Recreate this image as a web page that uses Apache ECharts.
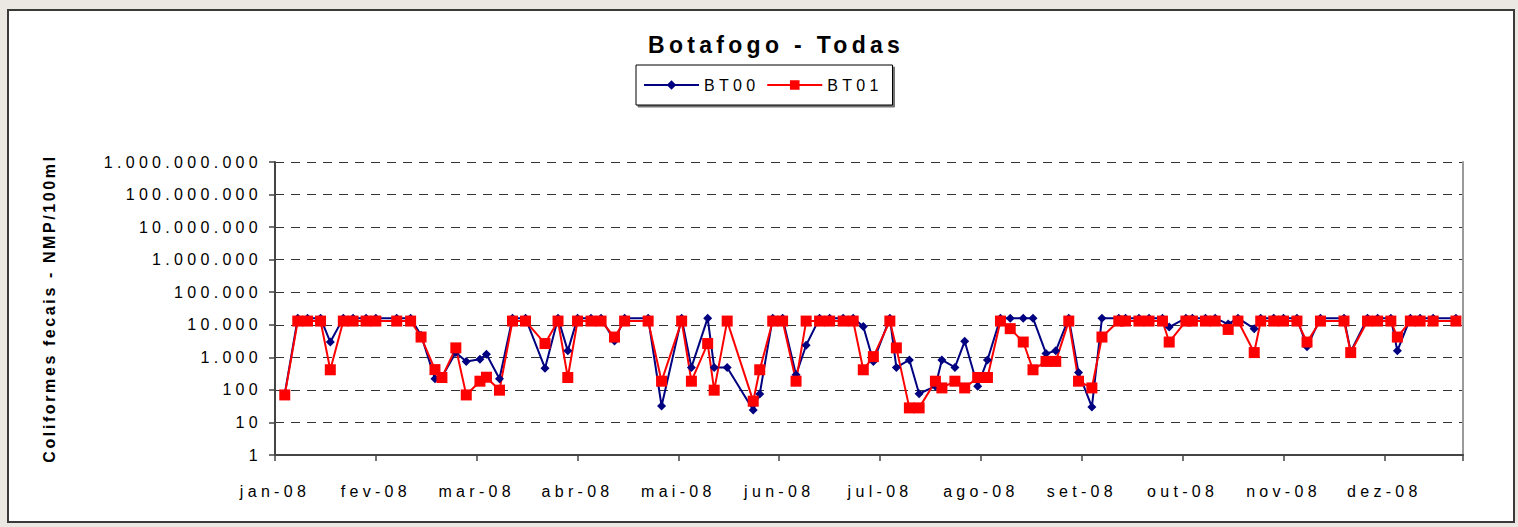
<!DOCTYPE html>
<html>
<head>
<meta charset="utf-8">
<script src="https://cdn.jsdelivr.net/npm/echarts@6/dist/echarts.min.js"></script>
<style>
  html, body { margin: 0; padding: 0; background: #ebe8e3; }
  #chart { width: 1518px; height: 527px; }
</style>
</head>
<body>
<div id="chart"></div>
<script>
// ---- data ----
const monthLabels = ['jan-08','fev-08','mar-08','abr-08','mai-08','jun-08','jul-08','ago-08','set-08','out-08','nov-08','dez-08'];
const yTickLabels = ['1','10','100','1.000','10.000','100.000','1.000.000','10.000.000','100.000.000','1.000.000.000'];
const sampleDates = ['2008-01-04','2008-01-08','2008-01-11','2008-01-15','2008-01-18','2008-01-22','2008-01-25','2008-01-29',
  '2008-02-01','2008-02-07','2008-02-11','2008-02-14','2008-02-18','2008-02-20','2008-02-24','2008-02-27',
  '2008-03-02','2008-03-04','2008-03-08','2008-03-12','2008-03-16','2008-03-22','2008-03-26','2008-03-29',
  '2008-04-01','2008-04-05','2008-04-08','2008-04-12','2008-04-15','2008-04-22','2008-04-26',
  '2008-05-02','2008-05-05','2008-05-10','2008-05-12','2008-05-16','2008-05-24','2008-05-26','2008-05-30',
  '2008-06-02','2008-06-06','2008-06-09','2008-06-13','2008-06-16','2008-06-20','2008-06-23','2008-06-26','2008-06-29',
  '2008-07-04','2008-07-06','2008-07-10','2008-07-13','2008-07-18','2008-07-20','2008-07-24','2008-07-27','2008-07-31',
  '2008-08-03','2008-08-07','2008-08-10','2008-08-14','2008-08-17','2008-08-21','2008-08-24','2008-08-28','2008-08-31',
  '2008-09-04','2008-09-07','2008-09-12','2008-09-14','2008-09-18','2008-09-21','2008-09-25','2008-09-27',
  '2008-10-02','2008-10-04','2008-10-08','2008-10-11','2008-10-15','2008-10-18','2008-10-23','2008-10-25','2008-10-29',
  '2008-11-01','2008-11-05','2008-11-08','2008-11-12','2008-11-19','2008-11-21','2008-11-26','2008-11-29',
  '2008-12-03','2008-12-05','2008-12-09','2008-12-12','2008-12-16','2008-12-23'];
const bt00 = [75,16000,16000,16000,2950,16000,16000,16000,
  16000,16000,16000,4800,220,250,1400,750,
  880,1250,220,16000,16000,465,16000,1580,
  16000,16000,16000,3200,16000,16000,32,
  16000,490,16000,490,490,24,75,16000,
  16000,290,2350,16000,16000,16000,16000,8900,750,
  16000,490,830,76,130,830,490,3100,130,
  830,16000,16000,16000,16000,1320,1580,16000,340,
  30,16000,16000,16000,16000,16000,16000,8500,
  16000,16000,16000,16000,10500,16000,7600,16000,16000,
  16000,16000,2100,16000,16000,1480,16000,16000,
  16000,1580,16000,16000,16000,16000];
const bt01 = [70,13000,13000,13000,415,13000,13000,13000,
  13000,13000,13000,4200,420,240,1950,70,
  185,245,98,13000,13000,2650,13000,240,
  13000,13000,13000,4200,13000,13000,185,
  13000,185,2650,98,13000,45,415,13000,
  13000,185,13000,13000,13000,13000,13000,415,1050,
  13000,1950,28,28,185,115,185,115,240,
  240,13000,7600,2950,415,750,750,13000,185,
  115,4200,13000,13000,13000,13000,13000,2950,
  13000,13000,13000,13000,7200,13000,1400,13000,13000,
  13000,13000,2950,13000,13000,1400,13000,13000,
  13000,4200,13000,13000,13000,13000];
const xAxisMaxMonth = 11.78;

// date -> position in month units (each month = one tick interval)
function monthPos(s) {
  const d = new Date(s + 'T00:00:00Z');
  const m = d.getUTCMonth() + (d.getUTCFullYear() - 2008) * 12;
  const days = new Date(Date.UTC(d.getUTCFullYear(), d.getUTCMonth() + 1, 0)).getUTCDate();
  return m + (d.getUTCDate() - 1) / days;
}
const xs = sampleDates.map(monthPos);
const s0 = xs.map((x, i) => [x, bt00[i]]);
const s1 = xs.map((x, i) => [x, bt01[i]]);

const FONT = 'Liberation Sans, Arial, sans-serif';
const chart = echarts.init(document.getElementById('chart'), null, { renderer: 'svg' });
chart.setOption({
  animation: false,
  backgroundColor: '#ebe8e3',
  graphic: [{
    type: 'rect', z: -10, silent: true,
    shape: { x: 8, y: 10, width: 1506, height: 512 },
    style: { fill: '#ffffff', stroke: '#3a3a3a', lineWidth: 2 }
  }],
  title: {
    text: 'Botafogo - Todas',
    left: 643, top: 28,
    textStyle: { fontFamily: FONT, fontWeight: 'bold', fontSize: 23, color: '#000' }
  },
  legend: {
    left: 636, top: 65,
    data: ['BT00', 'BT01'],
    itemWidth: 55, itemHeight: 12, itemGap: 24,
    padding: [12, 27, 12, 7],
    backgroundColor: '#fff',
    borderColor: '#000', borderWidth: 1,
    shadowColor: 'rgba(0,0,0,0.55)', shadowOffsetX: 2, shadowOffsetY: 2, shadowBlur: 0,
    textStyle: { fontFamily: FONT, fontSize: 16, color: '#000' }
  },
  grid: { left: 275, right: 55, top: 162, bottom: 72 },
  xAxis: {
    type: 'value', min: 0, max: xAxisMaxMonth, interval: 1,
    axisLine: { lineStyle: { color: '#444', width: 2 } },
    axisTick: { length: 6, lineStyle: { color: '#444', width: 1.5 } },
    splitLine: { show: false },
    axisLabel: {
      margin: 28, fontFamily: FONT, fontSize: 16, color: '#000',
      formatter: v => Math.abs(v - Math.round(v)) < 1e-6 ? (monthLabels[Math.round(v)] || '') : ''
    }
  },
  yAxis: [{
    type: 'log', logBase: 10, min: 1, max: 1e9, splitNumber: 9,
    name: 'Coliformes fecais - NMP/100ml',
    nameLocation: 'middle', nameGap: 218, nameRotate: 90,
    nameTextStyle: { fontFamily: FONT, fontWeight: 'bold', fontSize: 16, color: '#000' },
    axisLine: { show: true, lineStyle: { color: '#444', width: 2 } },
    axisTick: { show: true, length: 6, lineStyle: { color: '#444', width: 1.5 } },
    axisLabel: {
      margin: 13, fontFamily: FONT, fontSize: 16, color: '#000',
      formatter: v => yTickLabels[Math.round(Math.log10(v))] || ''
    },
    splitLine: { show: true, lineStyle: { color: '#333', width: 1, type: [9, 7] } }
  }, {
    type: 'value', position: 'right', min: 0, max: 1,
    axisLine: { show: true, lineStyle: { color: '#9a9a9a', width: 2 } },
    axisTick: { show: false }, axisLabel: { show: false }, splitLine: { show: false }
  }],
  series: [{
    name: 'BT00', type: 'line', data: s0,
    symbol: 'diamond', symbolSize: 9, showAllSymbol: true,
    lineStyle: { color: '#000080', width: 2 },
    itemStyle: { color: '#000080' }
  }, {
    name: 'BT01', type: 'line', data: s1,
    symbol: 'rect', symbolSize: 11, showAllSymbol: true,
    lineStyle: { color: '#ff0000', width: 2 },
    itemStyle: { color: '#ff0000' }
  }]
});

function spaceText() {
  document.querySelectorAll('#chart text').forEach(t => {
    const s = t.textContent || '';
    t.style.letterSpacing = s.indexOf('Coliformes') === 0 ? '2.6px' : '4.3px';
  });
}
chart.on('finished', spaceText);
spaceText();
</script>
</body>
</html>
